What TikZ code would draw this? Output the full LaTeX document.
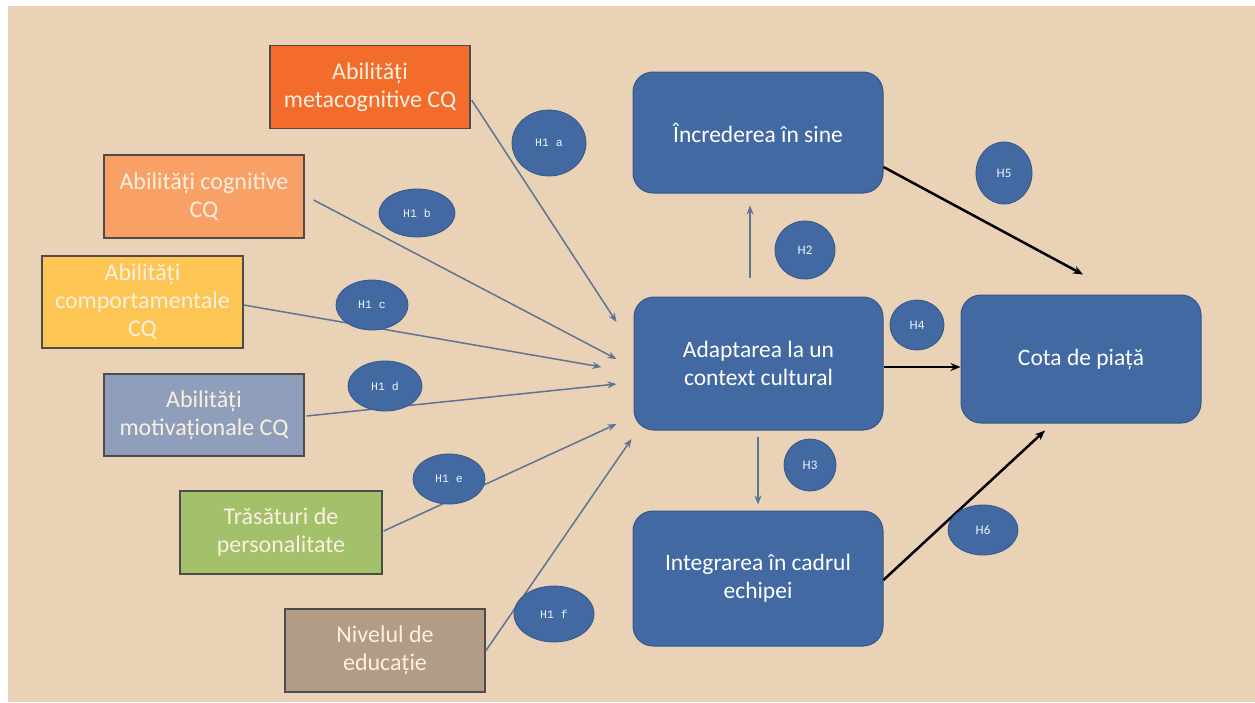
\documentclass[tikz,border=0pt]{standalone}
\usepackage{fontspec}
\setmainfont{Carlito}
\newfontfamily\hmono{Liberation Mono}
\usetikzlibrary{arrows.meta,calc,shapes.geometric}
\definecolor{bgbeige}{HTML}{E9D2B6}
\definecolor{boxblue}{HTML}{4269A1}
\definecolor{boxblueline}{HTML}{35578A}
\definecolor{thinline}{HTML}{5E7494}
\definecolor{cOrange}{HTML}{F36C2B}
\definecolor{cLightOrange}{HTML}{F9A066}
\definecolor{cYellow}{HTML}{FDC553}
\definecolor{cGreyBlue}{HTML}{8E9EBB}
\definecolor{cGreen}{HTML}{A3C06B}
\definecolor{cBrown}{HTML}{B29C86}
\definecolor{lighttext}{HTML}{FBF0E0}
\tikzset{
  srcbox/.style={draw=black!70, line width=1.3pt, inner sep=0pt, minimum width=200pt, minimum height=83pt,
    text=lighttext, align=center, font=\fontsize{24}{28}\selectfont},
  bluebox/.style={draw=boxblueline, line width=1pt, fill=boxblue, rounded corners=20pt, inner sep=0pt,
    minimum width=250pt, text=white, align=center, font=\fontsize{23.5}{28}\selectfont},
  hyp/.style={ellipse, draw=boxblueline, line width=0.8pt, fill=boxblue, inner sep=0pt, text=white!92!boxblue},
  hmonofont/.style={font=\hmono\fontsize{11.5}{12}\selectfont},
  hsansfont/.style={font=\fontsize{13}{14}\selectfont},
  thin/.style={draw=thinline, line width=1.5pt, -{Stealth[length=9pt,width=7pt]}},
  thick/.style={draw=black, line width=2.5pt, -{Stealth[length=10pt,width=8pt]}},
}
\begin{document}
\begin{tikzpicture}[x=1pt,y=-1pt]
\useasboundingbox (0,0) rectangle (1255,702);
\fill[white] (0,0) rectangle (1255,702);
\fill[bgbeige] (8,6) rectangle (1255,702);

% source boxes
\node[srcbox, fill=cOrange] (meta) at (370,87) {Abilități\\metacognitive CQ};
\node[srcbox, fill=cLightOrange] (cog) at (204,196.5) {Abilități cognitive\\CQ};
\node[srcbox, fill=cYellow, minimum width=201pt, minimum height=92pt] (comp) at (142.5,302) {Abilități\\comportamentale\\CQ};
\node[srcbox, fill=cGreyBlue, minimum height=82pt] (motiv) at (204,415) {Abilități\\motivaționale CQ};
\node[srcbox, fill=cGreen, minimum width=202pt] (tras) at (281,532.5) {Trăsături de\\personalitate};
\node[srcbox, fill=cBrown] (nivel) at (385,650.5) {Nivelul de\\educație};

% blue boxes
\node[bluebox, minimum height=121pt] (incr) at (758,132.5) {Încrederea în sine};
\node[bluebox, minimum width=249pt, minimum height=133pt] (adapt) at (758.5,363.5) {Adaptarea la un\\context cultural};
\node[bluebox, minimum height=135pt] (integ) at (758,578.5) {Integrarea în cadrul\\echipei};
\node[bluebox, minimum width=240pt, minimum height=128pt] (cota) at (1081,359) {Cota de piață};

% arrow end points
\coordinate (ea) at ($(adapt.west)+(-17,-41.5)$);
\coordinate (eb) at ($(adapt.west)+(-17,-4.5)$);
\coordinate (ec) at ($(adapt.west)+(-32,3.5)$);
\coordinate (ed) at ($(adapt.west)+(-17,20.5)$);
\coordinate (ee) at ($(adapt.west)+(-17,60.5)$);
\coordinate (ef) at ($(adapt.west)+(-2,75.5)$);

% thin connectors
\draw[thin] ($(meta.east)+(1,13)$) -- (ea);
\draw[thin] ($(cog.east)+(9,3.5)$) -- (eb);
\draw[thin] ($(comp.east)+(0,3)$) -- (ec);
\draw[thin] ($(motiv.east)+(2,1)$) -- (ed);
\draw[thin] ($(tras.east)+(1,-1.5)$) -- (ee);
\draw[thin] ($(nivel.east)+(0,0.5)$) -- (ef);
\draw[thin] ($(adapt.north)+(-8.5,-18.5)$) -- ($(incr.south)+(-8,12)$);
\draw[thin] ($(adapt.south)+(-0.5,6)$) -- ($(integ.north)+(0,-6)$);

% thick connectors
\draw[thick] ($(incr.east)+(0,34.5)$) -- ($(cota.north)+(2,-20)$);
\draw[thick] ($(adapt.east)+(0,3.5)$) -- ($(cota.west)+(0,8)$);
\draw[thick] ($(integ.east)+(0,1.5)$) -- ($(cota.south)+(-36,7)$);

% hypothesis ellipses
\node[hyp, hmonofont, minimum width=74pt, minimum height=66pt] (h1a) at (549,143) {H1 a};
\node[hyp, hmonofont, minimum width=76pt, minimum height=48pt] (h1b) at (417,213) {H1 b};
\node[hyp, hmonofont, minimum width=72pt, minimum height=50pt] (h1c) at (372,305) {H1 c};
\node[hyp, hmonofont, minimum width=74pt, minimum height=50pt] (h1d) at (385,386) {H1 d};
\node[hyp, hmonofont, minimum width=72pt, minimum height=50pt] (h1e) at (449,479) {H1 e};
\node[hyp, hmonofont, minimum width=80pt, minimum height=56pt] (h1f) at (554,614) {H1 f};
\node[hyp, hsansfont, minimum width=60pt, minimum height=58pt] (h2) at (805,250) {H2};
\node[hyp, hsansfont, minimum width=52pt, minimum height=52pt] (h3) at (810,465) {H3};
\node[hyp, hsansfont, minimum width=54pt, minimum height=50pt] (h4) at (917,325) {H4};
\node[hyp, hsansfont, minimum width=56pt, minimum height=62pt] (h5) at (1004,173) {H5};
\node[hyp, hsansfont, minimum width=70pt, minimum height=50pt] (h6) at (983,530) {H6};
\end{tikzpicture}
\end{document}
